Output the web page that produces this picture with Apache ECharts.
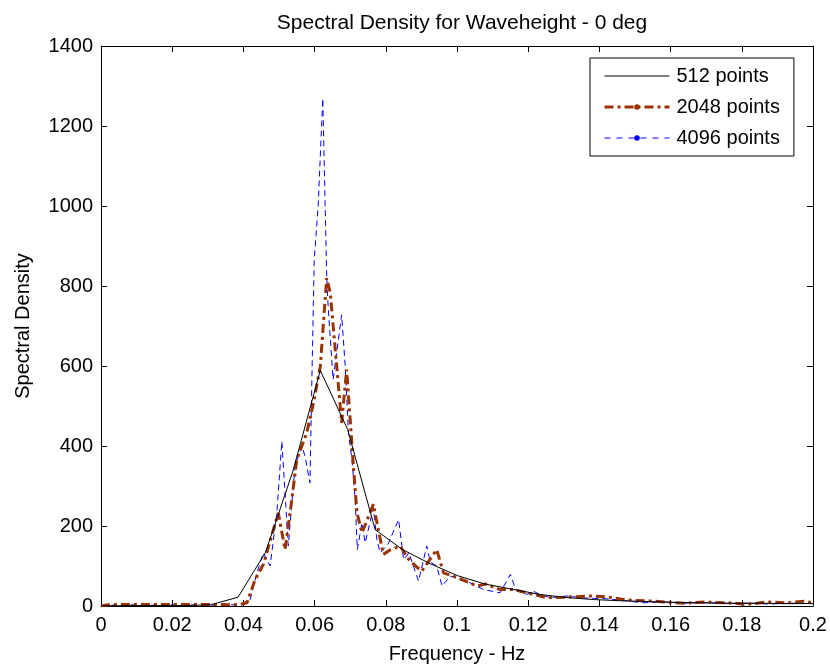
<!DOCTYPE html>
<html>
<head>
<meta charset="utf-8">
<script src="https://cdn.jsdelivr.net/npm/echarts@6/dist/echarts.min.js"></script>
<style>html,body{margin:0;padding:0;background:#fff}#c{width:830px;height:669px}</style>
</head>
<body>
<div id="c"></div>
<script>
const titleText = 'Spectral Density for Waveheight - 0 deg';
const xName = 'Frequency - Hz';
const yName = 'Spectral Density';
const seriesNames = ['512 points', '2048 points', '4096 points'];

// 512 points
const freq512 = [0, 0.0077, 0.0154, 0.0231, 0.0308, 0.0385, 0.0462, 0.0539, 0.0616, 0.0693, 0.077, 0.0847, 0.0924, 0.1001, 0.1078, 0.1155, 0.1232, 0.1309, 0.1386, 0.1463, 0.154, 0.1617, 0.1694, 0.1771, 0.1848, 0.1925, 0.2002];
const dens512 = [0, 1, 1, 1, 3, 22, 134, 337, 589, 441, 191, 141, 106, 76, 55, 42, 29, 21, 16, 13, 11, 9, 8, 7, 7, 6, 6];

// 2048 points
const freq2048 = [0, 0.002, 0.006, 0.012, 0.02, 0.028, 0.034, 0.0362, 0.039, 0.041, 0.0433, 0.0456, 0.0498, 0.0517, 0.0536, 0.055, 0.0578, 0.0597, 0.0616, 0.0634, 0.0644, 0.0658, 0.0676, 0.069, 0.07, 0.0709, 0.0719, 0.0733, 0.0765, 0.0793, 0.0812, 0.084, 0.0868, 0.0901, 0.0943, 0.0962, 0.1, 0.103, 0.1056, 0.108, 0.1121, 0.1159, 0.1196, 0.1252, 0.13, 0.1374, 0.142, 0.1477, 0.1552, 0.1636, 0.1693, 0.1777, 0.1814, 0.1871, 0.1927, 0.1974, 0.2];
const dens2048 = [0, 3, 4, 4, 4, 4, 4, 3, 4, 8, 66, 104, 233, 141, 266, 366, 433, 508, 599, 820, 783, 641, 458, 591, 466, 349, 233, 183, 254, 129, 140, 150, 112, 87, 141, 83, 71, 60, 50, 55, 41, 41, 33, 21, 22, 25, 23, 15, 12, 7, 10, 7, 4, 10, 8, 12, 8];

// 4096 points
const freq4096 = [0, 0.003, 0.008, 0.015, 0.022, 0.03, 0.036, 0.039, 0.0419, 0.0438, 0.0456, 0.0475, 0.0494, 0.0508, 0.0517, 0.0526, 0.0545, 0.0564, 0.0573, 0.0587, 0.0592, 0.0599, 0.061, 0.0623, 0.0634, 0.0638, 0.0652, 0.0676, 0.0686, 0.0695, 0.0705, 0.0714, 0.072, 0.0733, 0.0742, 0.0765, 0.0775, 0.0784, 0.0806, 0.0836, 0.085, 0.0865, 0.0892, 0.0915, 0.0925, 0.0943, 0.0958, 0.0981, 0.1005, 0.1028, 0.1075, 0.1121, 0.115, 0.1165, 0.1196, 0.1215, 0.1234, 0.1262, 0.1309, 0.136, 0.142, 0.1477, 0.152, 0.158, 0.164, 0.17, 0.176, 0.182, 0.188, 0.194, 0.2];
const dens4096 = [0, 2, 3, 2, 3, 2, 3, 3, 16, 83, 133, 100, 233, 412, 283, 150, 350, 400, 375, 308, 549, 866, 1000, 1269, 824, 749, 566, 728, 599, 433, 366, 266, 141, 208, 158, 245, 166, 133, 154, 216, 116, 133, 62, 150, 110, 100, 50, 75, 68, 62, 41, 33, 79, 41, 29, 37, 28, 21, 25, 20, 18, 13, 8, 10, 7, 8, 6, 7, 5, 7, 6];

const xTicks = [0, 0.02, 0.04, 0.06, 0.08, 0.1, 0.12, 0.14, 0.16, 0.18, 0.2];
const yTicks = [0, 200, 400, 600, 800, 1000, 1200, 1400];

const pair = (xs, ys) => xs.map((x, i) => [x, ys[i]]);
const FONT = '"Liberation Sans", Arial, Helvetica, sans-serif';
const C_BLACK = '#000000', C_BROWN = '#993300', C_BLUE = '#0000ff';

const chart = echarts.init(document.getElementById('c'), null, {renderer: 'canvas'});

const axisCommon = {
  axisLine: {show: true, onZero: false, lineStyle: {color: '#000', width: 1}},
  axisTick: {show: true, inside: true, length: 6, lineStyle: {color: '#000'}},
  splitLine: {show: false}
};

chart.setOption({
  animation: false,
  backgroundColor: '#fff',
  title: {
    text: titleText,
    left: 457,
    top: 8,
    textAlign: 'center',
    textStyle: {fontFamily: FONT, fontSize: 21, fontWeight: 'normal', color: '#000'}
  },
  grid: {left: 101, right: 17, top: 46, bottom: 62, containLabel: false},
  legend: {
    orient: 'vertical',
    left: 590,
    top: 58,
    padding: [8, 14, 8, 13],
    itemWidth: 65,
    itemHeight: 7,
    itemGap: 11,
    borderColor: '#000',
    borderWidth: 1,
    backgroundColor: '#fff',
    textStyle: {fontFamily: FONT, fontSize: 20, color: '#000', lineHeight: 20, padding: [0, 0, 0, 2]},
    data: [
      {name: seriesNames[0], itemStyle: {opacity: 0}, lineStyle: {color: C_BLACK, width: 1, type: 'solid'}},
      {name: seriesNames[1], itemStyle: {color: C_BROWN}, lineStyle: {color: C_BROWN, width: 3, type: [9, 4, 3, 4]}},
      {name: seriesNames[2], itemStyle: {color: C_BLUE}, lineStyle: {color: C_BLUE, width: 1, type: [6, 6]}}
    ]
  },
  xAxis: [
    Object.assign({
      type: 'value', min: 0, max: 0.2, interval: 0.02, position: 'bottom',
      name: xName, nameLocation: 'middle', nameGap: 38,
      nameTextStyle: {fontFamily: FONT, fontSize: 20, color: '#000'},
      axisLabel: {fontFamily: FONT, fontSize: 20, color: '#000', margin: 9,
        formatter: v => String(+v.toFixed(2))}
    }, axisCommon),
    Object.assign({
      type: 'value', min: 0, max: 0.2, interval: 0.02, position: 'top',
      axisLabel: {show: false}
    }, axisCommon)
  ],
  yAxis: [
    Object.assign({
      type: 'value', min: 0, max: 1400, interval: 200, position: 'left',
      name: yName, nameLocation: 'middle', nameGap: 68,
      nameTextStyle: {fontFamily: FONT, fontSize: 20, color: '#000'},
      axisLabel: {fontFamily: FONT, fontSize: 20, color: '#000', margin: 8,
        formatter: v => String(v)}
    }, axisCommon),
    Object.assign({
      type: 'value', min: 0, max: 1400, interval: 200, position: 'right',
      axisLabel: {show: false}
    }, axisCommon)
  ],
  series: [
    {
      name: seriesNames[0], type: 'line', data: pair(freq512, dens512),
      symbol: 'none', showSymbol: false,
      lineStyle: {color: C_BLACK, width: 1, type: 'solid'},
      itemStyle: {color: C_BLACK}, z: 3
    },
    {
      name: seriesNames[1], type: 'line', data: pair(freq2048, dens2048),
      symbol: 'circle', symbolSize: 5, showSymbol: false,
      lineStyle: {color: C_BROWN, width: 3, type: [9, 4, 3, 4]},
      itemStyle: {color: C_BROWN}, z: 2
    },
    {
      name: seriesNames[2], type: 'line', data: pair(freq4096, dens4096),
      symbol: 'circle', symbolSize: 4, showSymbol: false,
      lineStyle: {color: C_BLUE, width: 1, type: [6, 4]},
      itemStyle: {color: C_BLUE}, z: 1
    }
  ]
});
</script>
</body>
</html>
